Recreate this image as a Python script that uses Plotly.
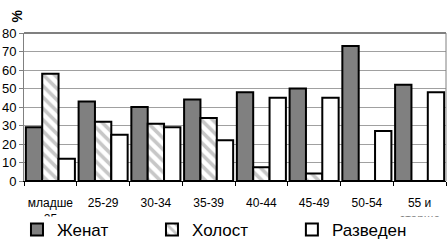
import plotly.graph_objects as go

categories = ["младше<br>25", "25-29", "30-34", "35-39", "40-44", "45-49", "50-54", "55 и<br>старше"]
zhenat = [29, 43, 40, 44, 48, 50, 73, 52]
holost = [58, 32, 31, 34, 7.5, 4, 0, 0]
razveden = [12, 25, 29, 22, 45, 45, 27, 48]
y_ticks = [0, 10, 20, 30, 40, 50, 60, 70, 80]

fig = go.Figure()
line = dict(color="black", width=2)
fig.add_bar(name="Женат", x=categories, y=zhenat, legend="legend",
            marker=dict(color="#808080", line=line))
fig.add_bar(name="Холост", x=categories, y=holost, legend="legend2",
            marker=dict(color="white", line=line,
                        pattern=dict(shape="\\", fgcolor="#909090", bgcolor="white",
                                     size=8, solidity=0.45)))
fig.add_bar(name="Разведен", x=categories, y=razveden, legend="legend3",
            marker=dict(color="white", line=line))

def leg(x):
    return dict(orientation="h", xref="container", yref="container",
                x=x, y=0.117, xanchor="left", yanchor="top",
                bgcolor="rgba(0,0,0,0)", font=dict(size=17, family="Arial, Liberation Sans"),
                itemsizing="constant")

fig.update_layout(
    width=447, height=240,
    margin=dict(l=24, r=1, t=33, b=59, autoexpand=False),
    paper_bgcolor="white", plot_bgcolor="white",
    barmode="group", bargap=0.07, bargroupgap=0,
    font=dict(family="Arial, Liberation Sans", size=12, color="black"),
    showlegend=True,
    legend=leg(0.038), legend2=leg(0.340), legend3=leg(0.653),
    xaxis=dict(showline=True, linecolor="black", linewidth=1, ticks="outside",
               tickson="boundaries", ticklen=4, tickcolor="black", tickangle=0,
               ticklabelstandoff=11,
               automargin=False, tickfont=dict(size=12), mirror=False),
    yaxis=dict(range=[0, 80], tickvals=y_ticks, showgrid=True, gridcolor="#a0a0a0",
               gridwidth=1, showline=True, linecolor="#808080", ticks="outside",
               ticklen=4, tickcolor="#808080", tickfont=dict(size=13), zeroline=False,
               automargin=False),
)
fig.add_annotation(text="<b>%</b>", xref="paper", yref="paper", x=-0.04, y=1.17,
                   showarrow=False, textangle=-90, font=dict(size=14))
fig.add_shape(type="line", xref="paper", yref="paper", x0=0, x1=1, y0=1, y1=1,
              line=dict(color="#808080", width=2))
fig.add_shape(type="line", xref="paper", yref="paper", x0=1, x1=1, y0=0, y1=1,
              line=dict(color="#808080", width=1))
# white band that hides the lower part of the wrapped category labels, as in the original
fig.add_shape(type="rect", xref="paper", yref="paper", x0=-0.1, x1=1.1,
              y0=-0.24, y1=-0.45, fillcolor="white", line=dict(width=0), layer="above")
fig.write_html("out.html", config={"displayModeBar": False},
               post_script="document.body.style.margin='0';")
